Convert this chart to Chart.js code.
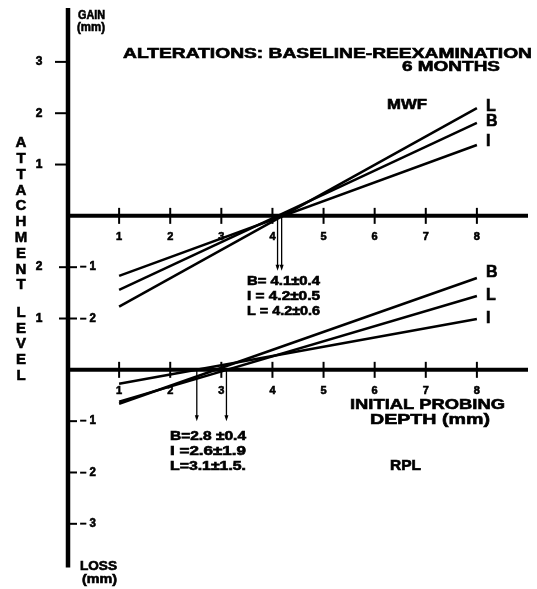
<!DOCTYPE html>
<html>
<head>
<meta charset="utf-8">
<script src="https://cdn.jsdelivr.net/npm/chart.js@4"></script>
<style>
html, body { margin: 0; padding: 0; background: #fff; }
#wrap { width: 537px; height: 589px; }
</style>
</head>
<body>
<div id="wrap"><canvas id="chart" width="537" height="589"></canvas></div>
<script>
// initial probing depth (mm) at the two ends of each regression line
var depth = [1, 8];

// MWF: change in attachment level (mm)
var mwfB = [-1.44, 1.81];
var mwfI = [-1.17, 1.38];
var mwfL = [-1.77, 2.10];

// RPL: change in attachment level (mm)
var rplB = [-0.66, 1.79];
var rplI = [-0.27, 0.99];
var rplL = [-0.62, 1.44];

// critical probing depths marked with arrows
var mwfCross = [4.1, 4.18];
var rplCross = [2.52, 3.1];
var mwfNotes = ['B= 4.1±0.4', 'I = 4.2±0.5', 'L = 4.2±0.6'];
var rplNotes = ['B=2.8 ±0.4', 'I =2.6±1.9', 'L=3.1±1.5.'];

var xTicks = [1, 2, 3, 4, 5, 6, 7, 8];
var gainTicks = [1, 2, 3];      // MWF gain (left labels)
var sharedTicks = [-1, -2];     // MWF loss, same place as RPL gain 2, 1
var lossTicks = [-1, -2, -3];   // RPL loss

var MWF_OFFSET = 3;  // MWF baseline drawn 3 mm above the RPL one
var FONT = '"Liberation Sans", Arial, sans-serif';

function pts(vals, off) {
    return depth.map(function (d, i) { return { x: d, y: vals[i] + off }; });
}

function lineSet(label, vals, off) {
    return {
        label: label,
        data: pts(vals, off),
        showLine: true,
        borderColor: '#000',
        borderWidth: 2.5,
        pointRadius: 0,
        fill: false
    };
}

function seg(ctx, x1, y1, x2, y2) {
    ctx.beginPath();
    ctx.moveTo(x1, y1);
    ctx.lineTo(x2, y2);
    ctx.stroke();
}

// heavy text, stretched sideways to span a given width (the original lettering is extended)
function spaced(ctx, text, left, y, width) {
    var w = ctx.measureText(text).width;
    ctx.save();
    ctx.textAlign = 'left';
    ctx.translate(left, y);
    ctx.scale(width / w, 1);
    ctx.fillText(text, 0, 0);
    ctx.lineWidth = 0.6;
    ctx.strokeText(text, 0, 0);
    ctx.restore();
}

var axesPlugin = {
    id: 'axes',
    beforeDatasetsDraw: function (chart) {
        var ctx = chart.ctx, xs = chart.scales.x, ys = chart.scales.y;
        var x0 = xs.getPixelForValue(0), x9 = xs.getPixelForValue(9);
        ctx.save();
        ctx.strokeStyle = '#000';
        ctx.lineWidth = 4.5;
        seg(ctx, x0, ys.getPixelForValue(7.05), x0, ys.getPixelForValue(-3.85));
        ctx.lineWidth = 4;
        [MWF_OFFSET, 0].forEach(function (b) {
            var y = ys.getPixelForValue(b);
            seg(ctx, x0, y, x9, y);
            ctx.lineWidth = 2;
            xTicks.forEach(function (t) {
                var x = xs.getPixelForValue(t);
                seg(ctx, x, y - 8, x, y + 8);
            });
            ctx.lineWidth = 4;
        });
        // y ticks
        ctx.lineWidth = 2;
        gainTicks.forEach(function (t) {
            var y = ys.getPixelForValue(t + MWF_OFFSET);
            seg(ctx, x0 - 13, y, x0, y);
        });
        sharedTicks.forEach(function (t) {
            var y = ys.getPixelForValue(t + MWF_OFFSET);
            seg(ctx, x0 - 9, y, x0 + 9, y);
        });
        lossTicks.forEach(function (t) {
            var y = ys.getPixelForValue(t);
            seg(ctx, x0, y, x0 + 9, y);
        });
        // arrows at the crossing points
        ctx.lineWidth = 1.3;
        ctx.fillStyle = '#000';
        function arrow(v, top, bot) {
            var x = xs.getPixelForValue(v);
            var y1 = ys.getPixelForValue(top), y2 = ys.getPixelForValue(bot);
            seg(ctx, x, y1, x, y2 - 3);
            ctx.beginPath();
            ctx.moveTo(x - 2, y2 - 6);
            ctx.lineTo(x + 2, y2 - 6);
            ctx.lineTo(x, y2);
            ctx.closePath();
            ctx.fill();
        }
        mwfCross.forEach(function (v) { arrow(v, MWF_OFFSET, MWF_OFFSET - 1.07); });
        rplCross.forEach(function (v) { arrow(v, 0, -1.0); });
        ctx.restore();
    },
    afterDraw: function (chart) {
        var ctx = chart.ctx, xs = chart.scales.x, ys = chart.scales.y;
        var x0 = xs.getPixelForValue(0);
        ctx.save();
        ctx.fillStyle = '#000';
        ctx.strokeStyle = '#000';
        ctx.textBaseline = 'middle';

        // x tick labels
        ctx.font = 'bold 11px ' + FONT;
        xTicks.forEach(function (t) {
            var x = xs.getPixelForValue(t);
            var w = ctx.measureText(String(t)).width;
            spaced(ctx, String(t), x - w / 2, ys.getPixelForValue(MWF_OFFSET) + 21, w);
            spaced(ctx, String(t), x - w / 2, ys.getPixelForValue(0) + 21, w);
        });

        // y tick labels
        ctx.font = 'bold 12px ' + FONT;
        var dw = ctx.measureText('1').width;
        gainTicks.forEach(function (t) {
            spaced(ctx, String(t), 39 - dw / 2, ys.getPixelForValue(t + MWF_OFFSET), dw);
        });
        sharedTicks.forEach(function (t) {
            var y = ys.getPixelForValue(t + MWF_OFFSET);
            spaced(ctx, String(t + MWF_OFFSET), 39 - dw / 2, y, dw);
            spaced(ctx, '– ' + Math.abs(t), x0 + 12, y, 16);
        });
        lossTicks.forEach(function (t) {
            spaced(ctx, '– ' + Math.abs(t), x0 + 12, ys.getPixelForValue(t), 16);
        });

        // axis end captions
        ctx.font = 'bold 12px ' + FONT;
        spaced(ctx, 'GAIN', 78, 16, 27);
        spaced(ctx, '(mm)', 77, 28, 28);
        spaced(ctx, 'LOSS', 80, 567, 37);
        spaced(ctx, '(mm)', 82, 580, 35);

        // title
        ctx.font = 'bold 14px ' + FONT;
        spaced(ctx, 'ALTERATIONS: BASELINE-REEXAMINATION', 123, 54, 409);
        spaced(ctx, '6 MONTHS', 402, 67, 98);

        // group labels
        ctx.font = 'bold 14px ' + FONT;
        spaced(ctx, 'MWF', 387, 105, 40);
        spaced(ctx, 'RPL', 390, 466, 31);

        // x axis title
        ctx.font = 'bold 15px ' + FONT;
        spaced(ctx, 'INITIAL PROBING', 350, 405, 155);
        spaced(ctx, 'DEPTH (mm)', 370, 420, 120);

        // stacked y axis title
        ctx.font = 'bold 15px ' + FONT;
        'ATTACHMENT'.split('').forEach(function (c, i) {
            var w = ctx.measureText(c).width;
            spaced(ctx, c, 21 - w / 2, 143 + i * 15.8, w);
        });
        'LEVEL'.split('').forEach(function (c, i) {
            var w = ctx.measureText(c).width;
            spaced(ctx, c, 21 - w / 2, 313 + i * 15.6, w);
        });

        // line end labels
        ctx.font = 'bold 16px ' + FONT;
        var lx = xs.getPixelForValue(8) + 9;
        function endLabel(s, y) {
            spaced(ctx, s, lx, y, ctx.measureText(s).width);
        }
        endLabel('L', ys.getPixelForValue(mwfL[1] + MWF_OFFSET) - 1);
        endLabel('B', ys.getPixelForValue(mwfB[1] + MWF_OFFSET) - 1);
        endLabel('I', ys.getPixelForValue(mwfI[1] + MWF_OFFSET) - 3);
        endLabel('B', ys.getPixelForValue(rplB[1]) - 5);
        endLabel('L', ys.getPixelForValue(rplL[1]));
        endLabel('I', ys.getPixelForValue(rplI[1]));

        // crossing notes
        ctx.font = 'bold 12px ' + FONT;
        mwfNotes.forEach(function (s, i) {
            spaced(ctx, s, 247, 282 + i * 14.7, 73);
        });
        rplNotes.forEach(function (s, i) {
            spaced(ctx, s, 170, 437 + i * 15, 76);
        });
        ctx.restore();
    }
};

var config = {
    type: 'scatter',
    data: {
        datasets: [
            lineSet('MWF L', mwfL, MWF_OFFSET),
            lineSet('MWF B', mwfB, MWF_OFFSET),
            lineSet('MWF I', mwfI, MWF_OFFSET),
            lineSet('RPL B', rplB, 0),
            lineSet('RPL L', rplL, 0),
            lineSet('RPL I', rplI, 0)
        ]
    },
    options: {
        responsive: false,
        animation: false,
        layout: { padding: { left: 68, right: 9, top: 8, bottom: 19 } },
        plugins: { legend: { display: false }, tooltip: { enabled: false } },
        scales: {
            x: { type: 'linear', min: 0, max: 9, display: false },
            y: { type: 'linear', min: -3.9, max: 7.05, display: false }
        }
    },
    plugins: [axesPlugin]
};

var chart = new Chart(document.getElementById('chart').getContext('2d'), config);
</script>
</body>
</html>
